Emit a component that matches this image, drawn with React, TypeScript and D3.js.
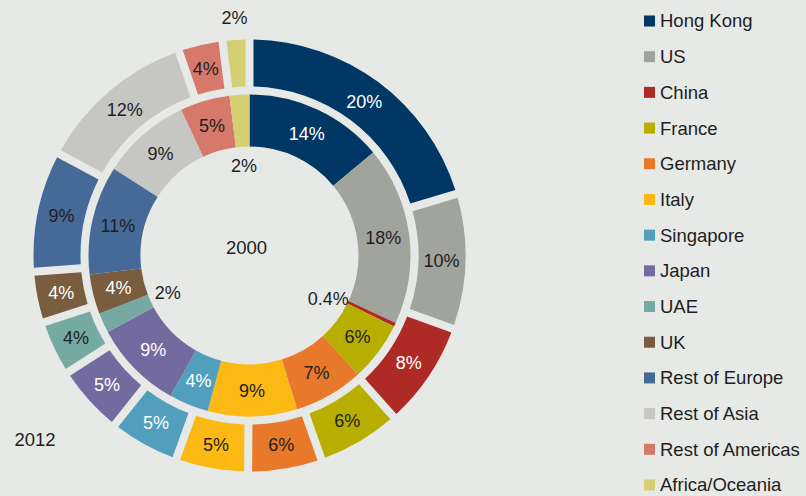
import React from "react";
import * as d3 from "d3";

const categories = [
  "Hong Kong", "US", "China", "France", "Germany", "Italy", "Singapore",
  "Japan", "UAE", "UK", "Rest of Europe", "Rest of Asia", "Rest of Americas", "Africa/Oceania",
];
// slice shares
const values2000 = [14, 18, 0.4, 6, 7, 9, 4, 9, 2, 4, 11, 9, 5, 2];
const values2012 = [20.4, 10.1, 7.9, 6.2, 5.5, 5.4, 5.2, 5.2, 4.1, 3.8, 9, 11.9, 3.3, 2];
// printed labels
const labels2000 = ["14%", "18%", "0.4%", "6%", "7%", "9%", "4%", "9%", "2%", "4%", "11%", "9%", "5%", "2%"];
const labels2012 = ["20%", "10%", "8%", "6%", "6%", "5%", "5%", "5%", "4%", "4%", "9%", "12%", "4%", "2%"];
const colors = [
  "#003764", "#a1a39d", "#b02a25", "#b8ae00", "#e8792a", "#fcb813", "#529fbd",
  "#736aa0", "#75aaa2", "#7a5c3f", "#466a98", "#c6c7c3", "#d6796a", "#d4cf72",
];
const whiteText = [true, false, true, false, false, false, true, true, false, true, false, false, false, false];
const outsideInner = [false, false, true, false, false, false, false, false, true, false, false, false, false, true];
const outsideOuter = [false, false, false, false, false, false, false, false, false, false, false, false, false, true];

const W = 806, H = 496;
const cx = 249.5, cy = 255.5;
const FONT = "'Liberation Sans', Arial, Helvetica, sans-serif";
const DARK = "#1e1e1e";

export default function App() {
  const pie = d3.pie<number>().sort(null).value((d) => d);
  const inner = pie(values2000);
  const outer = pie(values2012);

  const arcInner = d3.arc<d3.PieArcDatum<number>>().innerRadius(109).outerRadius(161);
  const arcOuter = d3.arc<d3.PieArcDatum<number>>()
    .innerRadius(169).outerRadius(216).padAngle(8 / 216).padRadius(216);

  const pos = (a: d3.PieArcDatum<number>, r: number, off = 0) => {
    const m = (a.startAngle + a.endAngle) / 2 + off;
    return [Math.sin(m) * r, -Math.cos(m) * r];
  };

  const legendY = d3.scaleLinear().domain([0, categories.length - 1]).range([21, 485]);

  return (
    <svg width={W} height={H} style={{ position: "absolute", left: 0, top: 0, background: "#e7e9e6" }}>
      <rect x={0} y={0} width={W} height={H} fill="#e7e9e6" />
      <g transform={`translate(${cx},${cy})`}>
        {inner.map((a, i) => (
          <path key={"i" + i} d={arcInner(a) || ""} fill={colors[i]} />
        ))}
        {outer.map((a, i) => (
          <path key={"o" + i} d={arcOuter(a) || ""} fill={colors[i]} />
        ))}
        {inner.map((a, i) => {
          const [x, y] = pos(a, outsideInner[i] ? 90 : 135, i === 2 ? 0.06 : 0);
          return (
            <text key={"li" + i} x={x} y={y} dy="0.35em" textAnchor="middle" fontFamily={FONT}
              fontSize={18} fill={!outsideInner[i] && whiteText[i] ? "#ffffff" : DARK}>
              {labels2000[i]}
            </text>
          );
        })}
        {outer.map((a, i) => {
          const [x, y] = pos(a, outsideOuter[i] ? 238 : 192);
          return (
            <text key={"lo" + i} x={x} y={y} dy="0.35em" textAnchor="middle" fontFamily={FONT}
              fontSize={18} fill={!outsideOuter[i] && whiteText[i] ? "#ffffff" : DARK}>
              {labels2012[i]}
            </text>
          );
        })}
        <text x={-3} y={-8} dy="0.35em" textAnchor="middle" fontFamily={FONT} fontSize={18.5} fill={DARK}>2000</text>
      </g>
      <text x={35} y={440} dy="0.35em" textAnchor="middle" fontFamily={FONT} fontSize={18.5} fill={DARK}>2012</text>
      <g>
        {categories.map((c, i) => (
          <g key={c} transform={`translate(644,${legendY(i)})`}>
            <rect x={0} y={-5.5} width={11} height={11} fill={colors[i]} />
            <text x={16} y={0} dy="0.35em" fontFamily={FONT} fontSize={18.5} fill={DARK}>{c}</text>
          </g>
        ))}
      </g>
    </svg>
  );
}
